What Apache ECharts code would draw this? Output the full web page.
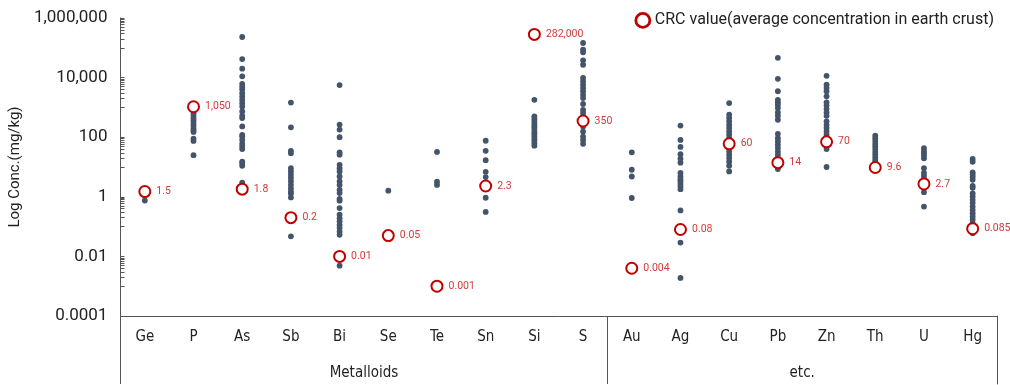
<!DOCTYPE html>
<html>
<head>
<meta charset="utf-8">
<script src="https://cdn.jsdelivr.net/npm/echarts@6/dist/echarts.min.js"></script>
<style>
html,body{margin:0;padding:0;background:#fff;}
#chart{width:1010px;height:385px;}
</style>
</head>
<body>
<div id="chart"></div>
<script>
// ---- Data ----
const categories = ['Ge','P','As','Sb','Bi','Se','Te','Sn','Si','S','Au','Ag','Cu','Pb','Zn','Th','U','Hg'];
const groups = ['Metalloids','etc.'];
const groupSizes = [10, 8];

const crcValues = [1.5, 1050, 1.8, 0.2, 0.01, 0.05, 0.001, 2.3, 282000, 350, 0.004, 0.08, 60, 14, 70, 9.6, 2.7, 0.085];
const crcLabels = ['1.5','1,050','1.8','0.2','0.01','0.05','0.001','2.3','282,000','350','0.004','0.08','60','14','70','9.6','2.7','0.085'];

const ge = [0.75];
const p  = [1100, 900, 750, 620, 520, 430, 360, 300, 250, 200, 170, 150, 90, 75, 25];
const as = [230000, 42000, 20000, 11000, 6200, 5000, 4100, 3000, 2300, 1800, 1400, 1080, 730, 520, 440, 230, 120, 105, 81, 60, 49, 40, 15, 13.5, 11, 3.0];
const sb = [1450, 215, 35, 29, 9.1, 7.1, 5.5, 4.3, 3.3, 2.5, 1.9, 1.5, 1.3, 0.95, 0.047];
const bi = [5600, 265, 180, 100, 31, 26, 11.8, 9.1, 7.1, 4.8, 3.3, 2.5, 1.7, 1.33, 0.85, 0.74, 0.42, 0.25, 0.19, 0.15, 0.114, 0.089, 0.068, 0.053, 0.0049];
const se = [1.6];
const te = [32, 3.2, 2.5];
const sn = [76, 35, 17, 6.9, 4.6, 0.93, 0.31];
const si = [1800, 500, 420, 355, 295, 245, 214, 178, 148, 126, 105, 89, 76, 63, 52];
const s  = [145000, 87000, 71000, 38000, 27000, 9700, 7500, 5800, 4500, 3500, 2650, 2050, 1300, 830, 650, 500, 230, 155, 105, 81, 60];
const au = [31, 8.1, 4.8, 0.91];
const ag = [245, 81, 47, 27, 19, 14, 6.3, 4.8, 3.9, 3.3, 2.7, 2.2, 1.8, 0.35, 0.029, 0.0019];
const cu = [1400, 570, 440, 340, 260, 205, 156, 121, 93, 43, 33, 26, 20, 15, 11, 7.1];
const pb = [46000, 9100, 3500, 1800, 1480, 1230, 960, 680, 520, 385, 130, 93, 72, 56, 43, 33, 26, 20, 10.4, 8.5];
const zn = [11500, 5800, 4500, 3500, 2350, 1480, 1150, 880, 680, 520, 340, 260, 205, 156, 121, 56, 40, 10];
const th = [112, 91, 74, 60, 49, 40, 32, 26, 21, 17, 14];
const u  = [43, 35, 29, 24, 19.5, 9.1, 6.3, 5.0, 3.9, 1.43, 0.47];
const hg = [18.6, 15, 6.6, 5.5, 4.6, 3.7, 2.3, 2.0, 1.3, 1.02, 0.79, 0.62, 0.47, 0.36, 0.28, 0.22, 0.17, 0.13, 0.078, 0.06];

const yTickValues = [0.0001, 0.01, 1, 100, 10000, 1000000];
const yTickLabels = ['0.0001', '0.01', '1', '100', '10,000', '1,000,000'];

const legendName = 'CRC value(average concentration in earth crust)';

// ---- Build ----
const samples = [ge, p, as, sb, bi, se, te, sn, si, s, au, ag, cu, pb, zn, th, u, hg];
const dotData = [];
samples.forEach((arr, i) => arr.forEach(v => dotData.push([categories[i], v])));
const crcData = crcValues.map((v, i) => [categories[i], v]);

// minor ticks (10x..90x of each even decade) + majors
const yTicks = [];
yTickValues.forEach((m, i) => {
  yTicks.push(m);
  if (i < yTickValues.length - 1) {
    for (let k = 1; k <= 9; k++) yTicks.push(m * 10 * k);
  }
});

// group boundaries and centers (in category units)
const groupBounds = [0];
const groupCenters = [];
let acc = 0;
groupSizes.forEach(n => { groupCenters.push(acc + n / 2); acc += n; groupBounds.push(acc); });

const chart = echarts.init(document.getElementById('chart'), null, {renderer: 'canvas'});
const FONT = 'Roboto, "Noto Sans", sans-serif';
const NARROW = '"Liberation Sans Narrow", "Arial Narrow", "DejaVu Sans Condensed", sans-serif';

chart.setOption({
  animation: false,
  backgroundColor: '#ffffff',
  textStyle: {fontFamily: FONT},
  grid: [
    {left: 120, right: 13, top: 18, bottom: 69, containLabel: false},
    // frame below the plot for the category groups
    {left: 120, right: 13, top: 316, bottom: 1, containLabel: false}
  ],
  legend: {
    data: [legendName],
    top: 7, right: 11,
    icon: 'circle',
    itemWidth: 14, itemHeight: 14, itemGap: 9,
    itemStyle: {color: '#ffffff', borderColor: '#c00000', borderWidth: 2.8},
    textStyle: {fontSize: 16, color: '#222', fontFamily: FONT}
  },
  xAxis: [{
    type: 'category',
    gridIndex: 0,
    data: categories,
    boundaryGap: true,
    axisLine: {show: true, onZero: false, lineStyle: {color: '#555', width: 1}},
    axisTick: {show: false},
    axisLabel: {fontSize: 15, color: '#222', margin: 14, fontFamily: NARROW, interval: 0},
    splitLine: {show: false}
  }, {
    type: 'value',
    gridIndex: 0,
    min: 0, max: categories.length,
    position: 'bottom',
    axisLine: {show: false, onZero: false},
    axisTick: {show: true, inside: false, length: 68, customValues: groupBounds.slice(0, -1), lineStyle: {color: '#555'}},
    axisLabel: {
      customValues: groupCenters,
      margin: 50,
      fontSize: 15, color: '#222', fontFamily: NARROW,
      formatter: v => { const i = groupCenters.indexOf(v); return i >= 0 ? groups[i] : ''; }
    },
    splitLine: {show: false}
  }, {
    type: 'value',
    gridIndex: 1,
    min: 0, max: categories.length,
    show: false
  }],
  yAxis: [{
    type: 'log',
    gridIndex: 0,
    logBase: 10,
    min: 0.0001, max: 1000000,
    name: 'Log Conc.(mg/kg)',
    nameLocation: 'middle',
    nameGap: 94,
    nameTextStyle: {fontSize: 15, color: '#222', fontFamily: FONT},
    axisLine: {show: true, lineStyle: {color: '#555', width: 1}},
    axisTick: {show: true, inside: true, length: 4, customValues: yTicks, lineStyle: {color: '#555'}},
    axisLabel: {
      customValues: yTickValues,
      fontSize: 17, color: '#222', margin: 13, fontFamily: FONT,
      formatter: v => {
        const i = yTickValues.findIndex(t => Math.abs(Math.log10(t) - Math.log10(v)) < 1e-6);
        return i >= 0 ? yTickLabels[i] : '';
      }
    },
    splitLine: {show: false}
  }, {
    type: 'value',
    gridIndex: 1,
    position: 'right',
    min: 0, max: 1,
    axisLine: {show: true, onZero: false, lineStyle: {color: '#555', width: 1}},
    axisTick: {show: false},
    axisLabel: {show: false},
    splitLine: {show: false}
  }],
  series: [{
    name: 'samples',
    type: 'scatter',
    data: dotData,
    symbol: 'circle',
    symbolSize: 5.8,
    itemStyle: {color: '#44546a', opacity: 1},
    z: 2
  }, {
    name: legendName,
    type: 'scatter',
    data: crcData,
    symbol: 'circle',
    symbolSize: 11,
    itemStyle: {color: '#ffffff', borderColor: '#c00000', borderWidth: 2, opacity: 1},
    label: {
      show: true,
      position: 'right',
      distance: 5,
      fontSize: 10.5,
      color: '#d03a3a',
      fontFamily: FONT,
      formatter: prm => crcLabels[prm.dataIndex]
    },
    z: 3
  }]
});
</script>
</body>
</html>
